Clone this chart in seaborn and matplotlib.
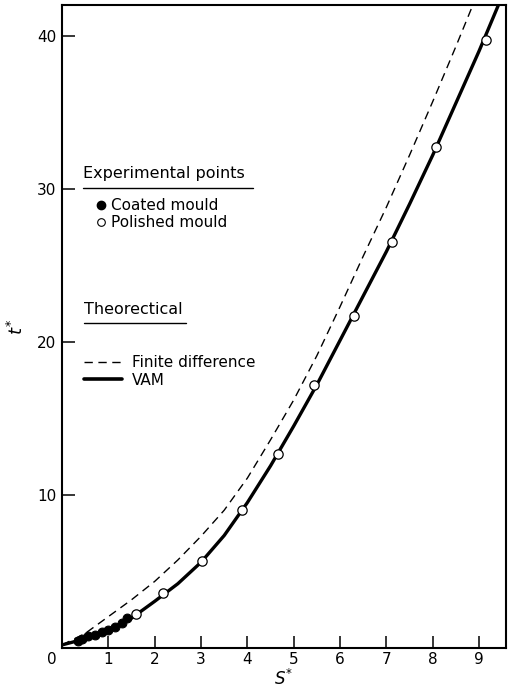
import matplotlib
matplotlib.use("Agg")
import matplotlib.pyplot as plt
import matplotlib.transforms as mtransforms
from matplotlib.lines import Line2D
import numpy as np
import pandas as pd
import seaborn as sns

# ---- data ----
vam_s = [0, 0.5, 1.0, 1.5, 2.0, 2.5, 3.0, 3.5, 4.0, 4.5, 5.0, 5.5, 6.0, 6.5, 7.0, 7.5, 8.0, 8.5, 9.0, 9.5]
vam_t = [0.2, 0.6, 1.15, 1.95, 3.05, 4.2, 5.6, 7.35, 9.5, 11.9, 14.5, 17.2, 20.1, 23.0, 25.9, 29.0, 32.2, 35.6, 39.0, 42.6]

fd_s = [0, 0.5, 1.0, 1.5, 2.0, 2.5, 3.0, 3.5, 4.0, 4.5, 5.0, 5.5, 6.0, 6.5, 7.0, 7.5, 8.0, 8.5, 9.0]
fd_t = [0.2, 0.95, 2.05, 3.15, 4.35, 5.75, 7.3, 9.0, 11.1, 13.6, 16.2, 19.1, 22.3, 25.6, 28.8, 32.2, 35.7, 39.3, 43.0]

coated_s = [0.35, 0.43, 0.57, 0.71, 0.86, 1.0, 1.14, 1.29, 1.40]
coated_t = [0.44, 0.59, 0.76, 0.87, 1.05, 1.2, 1.4, 1.65, 1.95]

polished_s = [1.59, 2.19, 3.02, 3.88, 4.66, 5.43, 6.29, 7.13, 8.06, 9.15]
polished_t = [2.2, 3.6, 5.7, 9.0, 12.7, 17.2, 21.7, 26.5, 32.7, 39.7]

x_ticks = [0, 1, 2, 3, 4, 5, 6, 7, 8, 9]
y_ticks = [10, 20, 30, 40]

sns.set_style("ticks")
plt.rcParams["font.family"] = ["DejaVu Sans"]
for k in ["text.color", "axes.labelcolor", "xtick.color", "ytick.color", "axes.edgecolor"]:
    plt.rcParams[k] = "black"

fig = plt.figure(figsize=(5.12, 6.89), dpi=100)
ax = fig.add_axes([62/512, 1-648/689, 444/512, 643/689])

vam_df = pd.DataFrame({"s": vam_s, "t": vam_t})
fd_df = pd.DataFrame({"s": fd_s, "t": fd_t})
coated_df = pd.DataFrame({"s": coated_s, "t": coated_t})
pol_df = pd.DataFrame({"s": polished_s, "t": polished_t})

sns.lineplot(data=fd_df, x="s", y="t", ax=ax, color="black", lw=1.0,
             linestyle=(0, (6, 4)), sort=False, estimator=None)
sns.lineplot(data=vam_df, x="s", y="t", ax=ax, color="black", lw=2.4,
             sort=False, estimator=None)
sns.scatterplot(data=coated_df, x="s", y="t", ax=ax, color="black", s=40,
                edgecolor="black", linewidth=0.8, zorder=4)
sns.scatterplot(data=pol_df, x="s", y="t", ax=ax, facecolor="white", s=45,
                edgecolor="black", linewidth=0.9, zorder=4)

ax.set_xlim(0, 9.58)
ax.set_ylim(0, 42.0)
ax.set_xticks(x_ticks)
ax.set_xticklabels([str(v) for v in x_ticks])
ax.set_yticks(y_ticks)
ax.set_yticklabels([str(v) for v in y_ticks])
ax.tick_params(direction="in", length=9, width=1.1, labelsize=11, pad=4)
ax.tick_params(axis="x", pad=3)
for sp in ax.spines.values():
    sp.set_linewidth(1.5)
    sp.set_color("black")
    sp.set_visible(True)

# shift the "0" label to the corner
lab0 = ax.get_xticklabels()[0]
lab0.set_transform(lab0.get_transform() + mtransforms.ScaledTranslation(-10/100, 0, fig.dpi_scale_trans))

ax.set_xlabel(r"$S^{*}$", fontsize=12, labelpad=1)
ax.set_ylabel(r"$t^{*}$", fontsize=13, labelpad=7)

# legend headers with underline
def header(txt, x, y, x1):
    ax.text(x, y, txt, transform=ax.transAxes, fontsize=11.5, ha="left", va="center")
    ax.plot([x, x1], [y - 0.022, y - 0.022], transform=ax.transAxes, color="black", lw=1.0)

header("Experimental points", 0.047, 0.738, 0.43)
header("Theorectical", 0.05, 0.527, 0.28)

h1 = [Line2D([], [], marker="o", ls="none", color="black", ms=6),
      Line2D([], [], marker="o", ls="none", mfc="white", mec="black", ms=5.5, mew=0.8)]
leg1 = ax.legend(h1, ["Coated mould", "Polished mould"], loc="upper left",
                 bbox_to_anchor=(0.075, 0.700), frameon=False, fontsize=11,
                 handlelength=0.8, handletextpad=0.25, labelspacing=0.15,
                 borderpad=0, borderaxespad=0)
ax.add_artist(leg1)
h2 = [Line2D([], [], color="black", lw=1.0, ls=(0, (6, 4))),
      Line2D([], [], color="black", lw=2.6)]
ax.legend(h2, ["Finite difference", "VAM"], loc="upper left",
          bbox_to_anchor=(0.05, 0.455), frameon=False, fontsize=11,
          handlelength=2.5, handletextpad=0.6, labelspacing=0.15,
          borderpad=0, borderaxespad=0)

fig.savefig("out.png", dpi=100)
